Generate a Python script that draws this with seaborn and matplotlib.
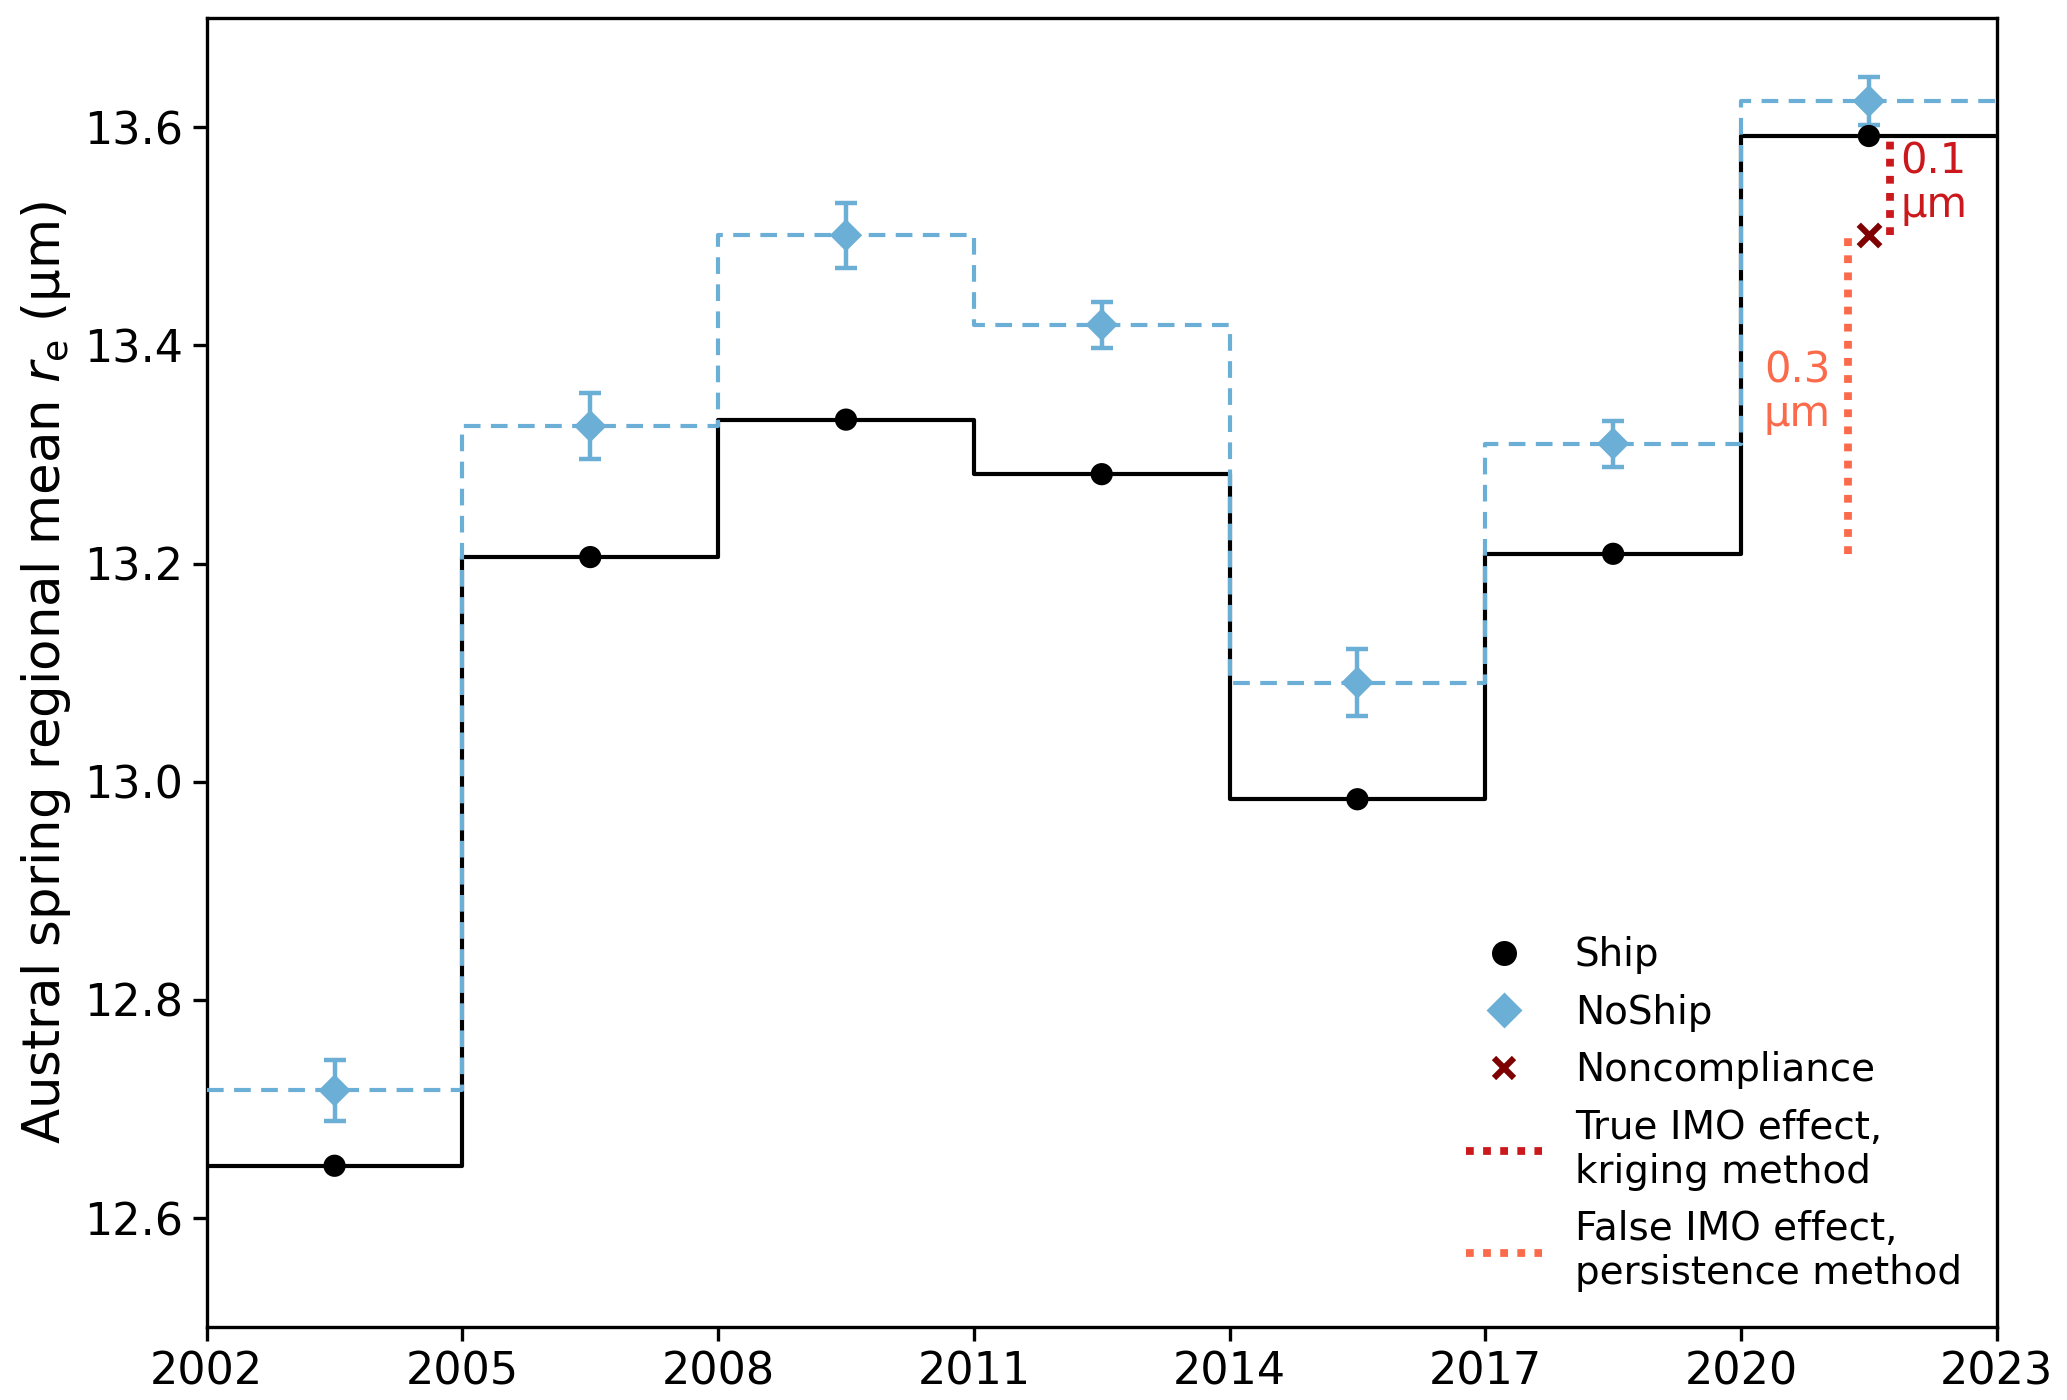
import numpy as np
import pandas as pd
import matplotlib
matplotlib.use('Agg')
import matplotlib.pyplot as plt
from matplotlib.lines import Line2D
import seaborn as sns

# Period edges (3-year bins) and midpoints
edges = [2002, 2005, 2008, 2011, 2014, 2017, 2020, 2023]
mids = [2003.5, 2006.5, 2009.5, 2012.5, 2015.5, 2018.5, 2021.5]

# Regional mean r_e values (um)
ship = [12.648, 13.206, 13.332, 13.282, 12.984, 13.209, 13.592]
noship = [12.717, 13.326, 13.501, 13.419, 13.091, 13.310, 13.624]
noship_err = [0.028, 0.030, 0.030, 0.021, 0.031, 0.021, 0.022]

# Noncompliance estimate for final period
noncomp_x = 2021.5
noncomp_y = 13.501

# IMO effect bars
true_x = 2021.75
true_range = [13.501, 13.592]
false_x = 2021.25
false_range = [13.209, 13.501]

blue = '#6baed6'
red = '#cb181d'
orange = '#fb6a4a'
darkred = '#7f0000'

sns.set_style('ticks', rc={'axes.edgecolor': 'black', 'text.color': 'black',
                           'axes.labelcolor': 'black', 'xtick.color': 'black',
                           'ytick.color': 'black'})
plt.rcParams['font.family'] = ['DejaVu Sans']
plt.rcParams['mathtext.fontset'] = 'dejavusans'

fig, ax = plt.subplots(figsize=(10.335, 7), dpi=200)
fig.subplots_adjust(left=0.100, right=0.966, top=0.987, bottom=0.052)

df_steps = pd.DataFrame({'ano': edges,
                         'ship': ship + [ship[-1]],
                         'noship': noship + [noship[-1]]})
df_pts = pd.DataFrame({'ano': mids, 'ship': ship, 'noship': noship, 'err': noship_err})

# Step lines
sns.lineplot(data=df_steps, x='ano', y='ship', ax=ax, color='black', lw=1.5,
             drawstyle='steps-post', zorder=2)
sns.lineplot(data=df_steps, x='ano', y='noship', ax=ax, color=blue, lw=1.5,
             linestyle=(0, (4, 2.5)), drawstyle='steps-post', zorder=3)

# Error bars + markers
ax.errorbar(df_pts['ano'], df_pts['noship'], yerr=df_pts['err'], fmt='none',
            ecolor=blue, elinewidth=1.6, capsize=4, capthick=1.6, zorder=4)
sns.scatterplot(data=df_pts, x='ano', y='noship', ax=ax, marker='D', s=68,
                color=blue, edgecolor='none', zorder=5)
sns.scatterplot(data=df_pts, x='ano', y='ship', ax=ax, marker='o', s=64,
                color='black', edgecolor='none', zorder=5)

# Noncompliance and IMO effects
ax.plot([true_x, true_x], true_range, color=red, lw=2.8, linestyle=(0, (1, 1.2)), zorder=3)
ax.plot([false_x, false_x], false_range, color=orange, lw=2.8, linestyle=(0, (1, 1.2)), zorder=3)
ax.scatter([noncomp_x], [noncomp_y], marker='x', s=60, color=darkred, linewidths=2.2, zorder=6)

ax.text(2021.87, 13.549, '0.1\nμm', color=red, fontsize=15, ha='left', va='center',
        linespacing=1.05)
ax.text(2021.05, 13.357, '0.3\nμm', color=orange, fontsize=15, ha='right', va='center',
        linespacing=1.05)

ax.set_xlim(2002, 2023)
ax.set_ylim(12.5, 13.7)
ax.set_xticks(edges)
ax.set_yticks([12.6, 12.8, 13.0, 13.2, 13.4, 13.6])
ax.tick_params(labelsize=16, length=5, width=1.2)
ax.set_xlabel('')
ax.set_ylabel(r'Austral spring regional mean $r_\mathrm{e}$ (μm)', fontsize=18.5)
for s in ax.spines.values():
    s.set_visible(True)
    s.set_linewidth(1.2)

handles = [
    Line2D([], [], marker='o', color='black', linestyle='none', markersize=8),
    Line2D([], [], marker='D', color=blue, linestyle='none', markersize=8),
    Line2D([], [], marker='x', color=darkred, linestyle='none', markersize=7.5, markeredgewidth=2.2),
    Line2D([], [], color=red, lw=2.8, linestyle=(0, (1, 1.2))),
    Line2D([], [], color=orange, lw=2.8, linestyle=(0, (1, 1.2))),
]
labels = ['Ship', 'NoShip', 'Noncompliance', 'True IMO effect,\nkriging method',
          'False IMO effect,\npersistence method']
ax.legend(handles, labels, loc='lower right', frameon=False, fontsize=14,
          handlelength=1.95, handletextpad=0.85, labelspacing=0.5,
          bbox_to_anchor=(1.0, 0.0))

fig.savefig('out.png', dpi=200)
